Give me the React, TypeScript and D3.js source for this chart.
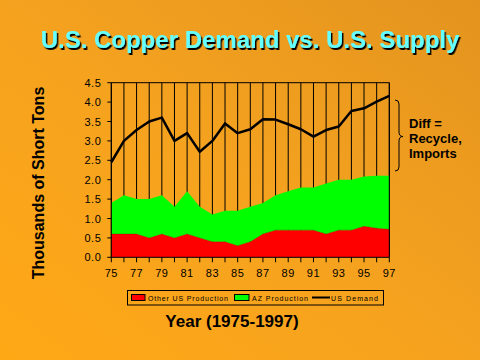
import React from "react";
import * as d3 from "d3";

const years = d3.range(1975, 1998);
const otherUS = [0.6, 0.6, 0.6, 0.5, 0.6, 0.5, 0.6, 0.5, 0.4, 0.4, 0.3, 0.4, 0.6, 0.7, 0.7, 0.7, 0.7, 0.6, 0.7, 0.7, 0.8, 0.75, 0.72];
const azProd = [0.8, 1.0, 0.9, 1.0, 1.0, 0.8, 1.1, 0.8, 0.7, 0.8, 0.9, 0.9, 0.8, 0.9, 1.0, 1.1, 1.1, 1.3, 1.3, 1.3, 1.28, 1.35, 1.38];
const usDemand = [2.45, 3.0, 3.28, 3.5, 3.6, 3.0, 3.2, 2.72, 3.0, 3.45, 3.2, 3.3, 3.56, 3.55, 3.43, 3.3, 3.11, 3.28, 3.37, 3.77, 3.84, 4.01, 4.16];
const yTicks = [0, 0.5, 1, 1.5, 2, 2.5, 3, 3.5, 4, 4.5];
const xLabelYears = d3.range(1975, 1998, 2);

export default function App() {
  const W = 480, H = 360;
  const L = 111.3, R = 389.3, T = 82.7, B = 257.3;
  const x = d3.scaleLinear().domain([1975, 1997]).range([L, R]);
  const y = d3.scaleLinear().domain([0, 4.5]).range([B, T]);

  const rows = years.map((yr, i) => ({ yr, other: otherUS[i], az: azProd[i] }));
  const stack = d3.stack<any>().keys(["other", "az"])(rows);
  const area = d3
    .area<any>()
    .x((d) => x(d.data.yr))
    .y0((d) => y(d[0]))
    .y1((d) => y(d[1]));
  const line = d3
    .line<number>()
    .x((_, i) => x(years[i]))
    .y((d) => y(d));

  const font = "Arial, 'Liberation Sans', sans-serif";
  const fills = ["#FF0000", "#00FF00"];

  const title = "U.S. Copper Demand vs. U.S. Supply";

  return (
    <svg width={W} height={H} style={{ position: "absolute", left: 0, top: 0 }} fontFamily={font}>
      <defs>
        <linearGradient id="bg" x1="0" y1="1" x2="1" y2="0">
          <stop offset="0" stopColor="#FFA816" />
          <stop offset="0.5" stopColor="#F5A21F" />
          <stop offset="1" stopColor="#E3941E" />
        </linearGradient>
        <filter id="shadow" x="-5%" y="-20%" width="110%" height="150%">
          <feDropShadow dx="1.5" dy="2" stdDeviation="0" floodColor="#000" floodOpacity="1" />
        </filter>
      </defs>
      <rect x={0} y={0} width={W} height={H} fill="url(#bg)" />

      {/* Title */}
      <text x={250} y={48} textAnchor="middle" fontSize={24} fontWeight="bold" fill="#66FFFF" filter="url(#shadow)">
        {title}
      </text>

      {/* vertical gridlines */}
      {years.map((yr) => (
        <line key={"g" + yr} x1={x(yr)} x2={x(yr)} y1={T} y2={B} stroke="#000" strokeWidth={1} />
      ))}
      <line x1={L} x2={R} y1={T} y2={T} stroke="#000" strokeWidth={1} />

      {/* stacked areas */}
      {stack.map((s, i) => (
        <path key={"a" + i} d={area(s) || ""} fill={fills[i]} stroke="none" />
      ))}
      <path
        d={d3.line<any>().x((d) => x(d.data.yr)).y((d) => y(d[1]))(stack[0]) || ""}
        fill="none"
        stroke="#800000"
        strokeWidth={0.6}
        opacity={0.5}
      />

      {/* demand line */}
      <path d={line(usDemand) || ""} fill="none" stroke="#000" strokeWidth={2.5} strokeLinejoin="round" />

      {/* axes */}
      <line x1={L} x2={L} y1={T} y2={B} stroke="#000" strokeWidth={1} />
      <line x1={R} x2={R} y1={T} y2={B} stroke="#000" strokeWidth={1} />
      <line x1={L} x2={R} y1={B} y2={B} stroke="#000" strokeWidth={1} />
      {yTicks.map((t) => (
        <g key={"y" + t}>
          <line x1={L - 4} x2={L} y1={y(t)} y2={y(t)} stroke="#000" />
          <text x={L - 10} y={y(t) + 4} textAnchor="end" fontSize={11} letterSpacing={0.5} fill="#000">
            {t.toFixed(1)}
          </text>
        </g>
      ))}
      {years.map((yr) => (
        <line key={"t" + yr} x1={x(yr)} x2={x(yr)} y1={B} y2={B + 5} stroke="#000" />
      ))}
      {xLabelYears.map((yr) => (
        <text key={"xl" + yr} x={x(yr)} y={277} textAnchor="middle" fontSize={11} letterSpacing={0.5} fill="#000">
          {String(yr).slice(2)}
        </text>
      ))}

      {/* y axis title */}
      <text
        transform="translate(44,183) rotate(-90)"
        textAnchor="middle"
        fontSize={16}
        fontWeight="bold"
        fill="#000"
      >
        Thousands of Short Tons
      </text>

      {/* brace & note */}
      <path
        d="M395,100 Q399,100 399,104 L399,132 Q399,136.5 403,136.5 Q399,136.5 399,141 L399,167 Q399,171 395,171"
        fill="none"
        stroke="#000"
        strokeWidth={1}
      />
      <g fontSize={13} fontWeight="bold" fill="#000">
        <text x={409} y={128}>Diff =</text>
        <text x={409} y={143}>Recycle,</text>
        <text x={409} y={157.5}>Imports</text>
      </g>

      {/* legend */}
      <rect x={127.5} y={290.5} width={256} height={14.5} fill="none" stroke="#000" strokeWidth={1} />
      <rect x={131.5} y={294.5} width={13.5} height={6} fill="#FF0000" stroke="#000" strokeWidth={1} />
      <text x={148} y={301} fontSize={7} textLength={80} lengthAdjust="spacing" fill="#000">Other US Production</text>
      <rect x={234.5} y={294.5} width={14.5} height={6} fill="#00FF00" stroke="#000" strokeWidth={1} />
      <text x={252} y={301} fontSize={7} textLength={56} lengthAdjust="spacing" fill="#000">AZ Production</text>
      <line x1={312} x2={330} y1={297.5} y2={297.5} stroke="#000" strokeWidth={2} />
      <text x={331} y={301} fontSize={7} textLength={47} lengthAdjust="spacing" fill="#000">US Demand</text>

      {/* x axis title */}
      <text x={232} y={327} textAnchor="middle" fontSize={17} fontWeight="bold" fill="#000">
        Year (1975-1997)
      </text>
    </svg>
  );
}
